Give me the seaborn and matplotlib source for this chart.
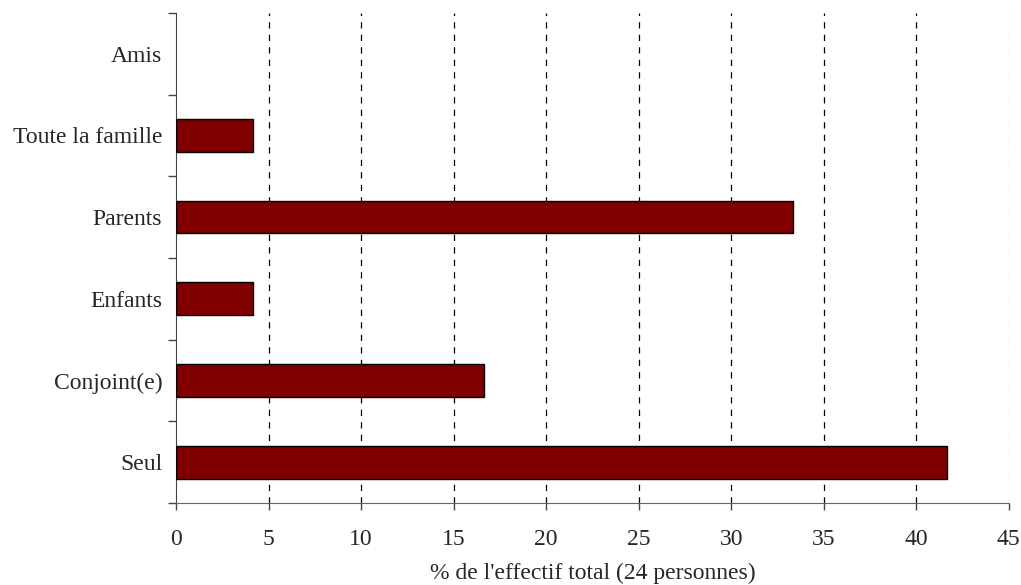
import matplotlib
matplotlib.use("Agg")
import matplotlib.pyplot as plt
import seaborn as sns
import pandas as pd

categories = ["Amis", "Toute la famille", "Parents", "Enfants", "Conjoint(e)", "Seul"]
values = [0.0, 4.17, 33.33, 4.17, 16.67, 41.67]
xticks = [0, 5, 10, 15, 20, 25, 30, 35, 40, 45]

sns.set_style("white")
plt.rcParams["font.family"] = ["Liberation Serif", "DejaVu Serif"]

df = pd.DataFrame({"cat": categories, "val": values})

fig = plt.figure(figsize=(10.21, 5.85), dpi=100)
ax = fig.add_axes([0.1724, 0.140, 0.8156, 0.838])

sns.barplot(data=df, y="cat", x="val", order=categories, orient="h",
            color="#800000", saturation=1, edgecolor="black", linewidth=1,
            width=0.4, ax=ax, zorder=3)
for p in ax.patches:
    if p.get_width() == 0:
        p.set_visible(False)

ax.set_xlim(0, 45)
ax.set_ylim(5.5, -0.5)
for x in xticks[1:]:
    ax.axvline(x, color="#c8c8c8" if x == 45 else "black", linestyle=(0, (5, 5)),
               linewidth=0.9, zorder=1)

ax.set_xticks(xticks)
ax.set_xticklabels([str(t) for t in xticks], fontsize=17)
ax.set_yticks([i - 0.5 for i in range(7)])
ax.set_yticklabels([""] * 7)
ax.set_yticks(range(len(categories)), categories, minor=True)
ax.tick_params(axis="y", which="minor", left=False, length=0, labelsize=17, pad=10)
ax.tick_params(axis="y", which="major", left=True, length=6, width=1,
               direction="out", color="#444444")
ax.tick_params(axis="x", bottom=True, length=5, width=1, direction="out",
               color="#444444", pad=14)

ax.set_xlabel("% de l'effectif total (24 personnes)", fontsize=17, labelpad=9)
ax.set_ylabel("")

for s in ["top", "right"]:
    ax.spines[s].set_visible(False)
ax.spines["left"].set_color("#444444")
ax.spines["bottom"].set_color("#666666")

fig.savefig("out.png", dpi=100)
